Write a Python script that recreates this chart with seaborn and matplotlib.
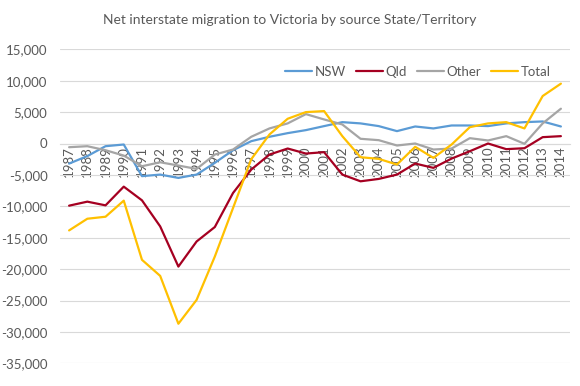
import pandas as pd
import matplotlib
matplotlib.use("Agg")
import matplotlib.pyplot as plt
import seaborn as sns

years = list(range(1987, 2015))

nsw = [-3200, -2000, -430, -160, -5200, -4950, -5480, -4950, -3080, -1070,
       370, 1070, 1650, 2130, 2770, 3400, 3200, 2770, 1970, 2710,
       2400, 2870, 2870, 2770, 3200, 3400, 3510, 2710]
qld = [-9900, -9260, -9850, -6870, -9050, -13200, -19600, -15600, -13300, -7880,
       -4150, -1760, -800, -1600, -1380, -4950, -6020, -5640, -4950, -3190,
       -3880, -2400, -1230, 0, -900, -750, 1010, 1170]
other = [-590, -430, -1070, -1920, -3620, -2990, -3510, -4050, -1760, -960,
         1070, 2400, 3200, 4680, 3830, 3030, 750, 530, -320, 0,
         -960, -800, 850, 480, 1170, -50, 3200, 5540]
total = [-13840, -11980, -11660, -9100, -18520, -21080, -28700, -24900, -18000, -10270,
         -2500, 1440, 3940, 5000, 5160, 1170, -2180, -2450, -3350, -530,
         -2290, -160, 2600, 3200, 3400, 2400, 7560, 9530]

series = ["NSW", "Qld", "Other", "Total"]
colours = {"NSW": "#5B9BD5", "Qld": "#A50021", "Other": "#A5A5A5", "Total": "#FFC000"}

df = pd.DataFrame({
    "year": years * 4,
    "value": nsw + qld + other + total,
    "series": [s for s in series for _ in years],
})

sns.set_style("white")
plt.rcParams["font.family"] = ["Lato", "DejaVu Sans"]
txt = "#595959"

fig = plt.figure(figsize=(5.8, 3.86), dpi=100)
ax = fig.add_axes([60 / 580, 1 - 363.3 / 386, 510 / 580, (363.3 - 49.3) / 386])

sns.lineplot(data=df, x="year", y="value", hue="series", palette=colours,
             hue_order=series, linewidth=1.6, ax=ax, zorder=3)

# axis line at zero first, it resets the ticks
for s in ["top", "right", "left"]:
    ax.spines[s].set_visible(False)
ax.spines["bottom"].set_position(("data", 0))
ax.spines["bottom"].set_color("#D9D9D9")
ax.spines["bottom"].set_linewidth(0.8)

ax.set_xlim(1986.5, 2014.5)
ax.set_ylim(-35000, 15000)
ax.set_yticks(range(-35000, 15001, 5000))
ax.set_yticklabels([f"{v:,}" for v in range(-35000, 15001, 5000)])
ax.set_xticks(years)
ax.set_xticklabels([str(y) for y in years], rotation=90, va="top", ha="center")

ax.grid(axis="y", color="#D9D9D9", linewidth=0.8)
ax.grid(axis="x", visible=False)
ax.tick_params(axis="y", length=0, pad=9, labelsize=9.5, labelcolor=txt)
ax.tick_params(axis="x", length=0, pad=2, labelsize=9.5, labelcolor=txt)
ax.set_xlabel("")
ax.set_ylabel("")

ax.legend(loc="center", bbox_to_anchor=(418 / 580, 1 - 72 / 386),
          bbox_transform=fig.transFigure, ncol=4, frameon=False,
          fontsize=9.5, handlelength=2.0, columnspacing=0.8, handletextpad=0.2,
          labelcolor=txt)

fig.text(0.5, 1 - 20 / 386, "Net interstate migration to Victoria by source State/Territory",
         ha="center", va="center", fontsize=10, color=txt)

fig.savefig("out.png", dpi=100)
